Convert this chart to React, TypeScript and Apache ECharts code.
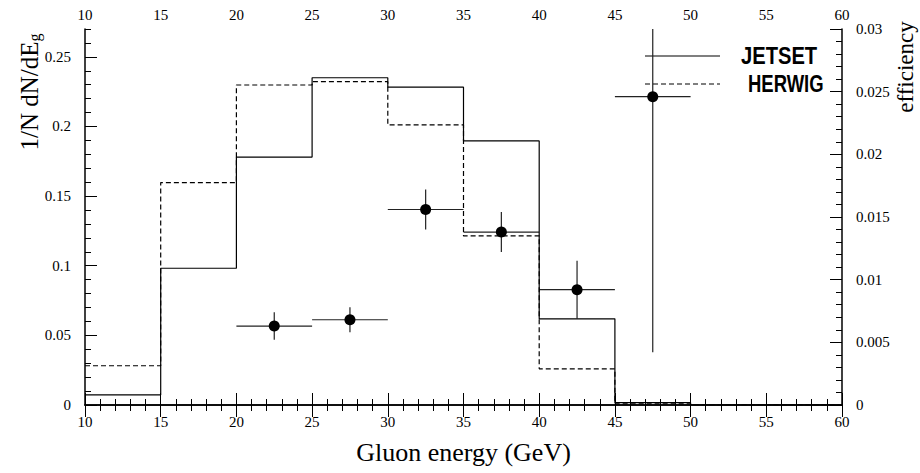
import React, { useEffect, useRef } from "react";
import * as echarts from "echarts";

// Bin edges of the histograms (GeV)
const binEdges = [10, 15, 20, 25, 30, 35, 40, 45, 50, 55, 60];
// 1/N dN/dE_g per bin
const jetset = [0.0072, 0.0982, 0.178, 0.235, 0.2282, 0.1896, 0.0619, 0.0017, 0, 0];
const herwig = [0.0282, 0.1597, 0.2298, 0.2322, 0.2011, 0.1214, 0.026, 0.0008, 0, 0];
// Efficiency points
const effX = [22.5, 27.5, 32.5, 37.5, 42.5, 47.5];
const effXErr = [2.5, 2.5, 2.5, 2.5, 2.5, 2.5];
const effY = [0.0063, 0.0068, 0.0156, 0.0138, 0.0092, 0.0246];
const effYErr = [0.0011, 0.001, 0.0016, 0.0016, 0.0023, 0.0204];

const xTicks = ["10", "15", "20", "25", "30", "35", "40", "45", "50", "55", "60"];

const SERIF = "Liberation Serif";

function histData(vals: number[]) {
  const d: number[][] = vals.map((v, i) => [binEdges[i], v]);
  d.push([binEdges[binEdges.length - 1], vals[vals.length - 1]]);
  return d;
}

const richLabel = { t: { fontFamily: SERIF, fontSize: 15, color: "#000" } };
const fmtX = (v: number) => (xTicks.includes(String(v)) ? `{t|${v}}` : "");
const fmtY = (v: number) => `{t|${v}}`;

export default function App() {
  const ref = useRef<HTMLDivElement>(null);
  useEffect(() => {
    if (!ref.current) return;
    const chart = echarts.init(ref.current, undefined, { renderer: "svg" });
    const labelStyle = { color: "#000", fontFamily: SERIF, fontSize: 15, rich: richLabel };
    const xCommon = {
      type: "value" as const,
      min: 10,
      max: 60,
      interval: 5,
      axisLine: { lineStyle: { color: "#000", width: 1.5 } },
      axisTick: { inside: true, length: 12, lineStyle: { color: "#000", width: 1 } },
      minorTick: { show: true, splitNumber: 5, length: 6, lineStyle: { color: "#000", width: 1 } },
      splitLine: { show: false },
      axisLabel: { ...labelStyle, margin: 9, formatter: fmtX },
    };
    chart.setOption({
      animation: false,
      backgroundColor: "#fff",
      textStyle: { fontFamily: SERIF },
      grid: { left: 85, right: 78, top: 29, bottom: 68, show: false, containLabel: false, outerBoundsMode: "none" },
      xAxis: [
        {
          ...xCommon,
          position: "bottom",
          name: "Gluon energy (GeV)",
          nameLocation: "middle",
          nameGap: 34,
          nameTextStyle: { color: "#000", fontFamily: SERIF, fontSize: 26 },
        },
        { ...xCommon, position: "top", axisLabel: { ...xCommon.axisLabel, margin: 7 } },
      ],
      yAxis: [
        {
          type: "value",
          position: "left",
          min: 0,
          max: 0.27,
          interval: 0.05,
          axisLine: { show: true, lineStyle: { color: "#000", width: 1.5 } },
          axisTick: { show: true, inside: true, length: 12, lineStyle: { color: "#000" } },
          splitLine: { show: false },
          axisLabel: { ...labelStyle, margin: 14, showMaxLabel: false, formatter: fmtY },
        },
        {
          type: "value",
          position: "left",
          min: 0,
          max: 0.27,
          interval: 0.01,
          axisLine: { show: false },
          axisTick: { show: true, inside: true, length: 6, lineStyle: { color: "#000" } },
          splitLine: { show: false },
          axisLabel: { show: false },
        },
        {
          type: "value",
          position: "right",
          min: 0,
          max: 0.03,
          interval: 0.005,
          axisLine: { show: true, lineStyle: { color: "#000", width: 1.5 } },
          axisTick: { show: true, inside: true, length: 12, lineStyle: { color: "#000" } },
          minorTick: { show: true, splitNumber: 5, length: 6, lineStyle: { color: "#000" } },
          splitLine: { show: false },
          axisLabel: { ...labelStyle, margin: 14, formatter: fmtY },
        },
      ],
      series: [
        {
          name: "JETSET",
          type: "line",
          step: "end",
          xAxisIndex: 0,
          yAxisIndex: 0,
          symbol: "none",
          data: histData(jetset),
          lineStyle: { color: "#000", width: 1.2, type: "solid" },
        },
        {
          name: "HERWIG",
          type: "line",
          step: "end",
          xAxisIndex: 0,
          yAxisIndex: 0,
          symbol: "none",
          data: histData(herwig),
          lineStyle: { color: "#000", width: 1.2, type: [5, 3] },
        },
        {
          name: "efficiency errors",
          type: "custom",
          xAxisIndex: 0,
          yAxisIndex: 2,
          clip: true,
          data: effX.map((x, i) => [x, effY[i], effXErr[i], effYErr[i]]),
          renderItem: (params: any, api: any) => {
            const x = api.value(0);
            const y = api.value(1);
            const ex = api.value(2);
            const ey = api.value(3);
            const h1 = api.coord([x - ex, y]);
            const h2 = api.coord([x + ex, y]);
            const v1 = api.coord([x, Math.max(0, y - ey)]);
            const v2 = api.coord([x, Math.min(0.03, y + ey)]);
            const st = { stroke: "#222", lineWidth: 1.2 };
            return {
              type: "group",
              children: [
                { type: "line", shape: { x1: h1[0], y1: h1[1], x2: h2[0], y2: h2[1] }, style: st },
                { type: "line", shape: { x1: v1[0], y1: v1[1], x2: v2[0], y2: v2[1] }, style: st },
              ],
            };
          },
        },
        {
          name: "efficiency",
          type: "scatter",
          xAxisIndex: 0,
          yAxisIndex: 2,
          symbol: "circle",
          symbolSize: 11,
          data: effX.map((x, i) => [x, effY[i]]),
          itemStyle: { color: "#000", opacity: 1 },
          z: 5,
        },
      ],
      graphic: [
        {
          type: "text",
          x: 29,
          y: 92,
          rotation: Math.PI / 2,
          style: {
            text: "1/N dN/dE{s|g}",
            fill: "#000",
            font: `25px ${SERIF}`,
            align: "center",
            verticalAlign: "middle",
            rich: { s: { fontSize: 16, fontFamily: SERIF, padding: [10, 0, 0, 0], fill: "#000" } },
          },
        },
        {
          type: "text",
          x: 905,
          y: 67,
          rotation: Math.PI / 2,
          style: {
            text: "efficiency",
            fill: "#000",
            font: `23px ${SERIF}`,
            align: "center",
            verticalAlign: "middle",
          },
        },
        { type: "line", shape: { x1: 645, y1: 56, x2: 720, y2: 56 }, style: { stroke: "#000", lineWidth: 1.2 } },
        {
          type: "line",
          shape: { x1: 645, y1: 84, x2: 720, y2: 84 },
          style: { stroke: "#000", lineWidth: 1.2, lineDash: [5, 3] },
        },
        {
          type: "text",
          x: 741,
          y: 56,
          scaleX: 0.84,
          style: {
            text: "JETSET",
            fill: "#000",
            font: "bold 24px Liberation Sans",
            align: "left",
            verticalAlign: "middle",
          },
        },
        {
          type: "text",
          x: 748,
          y: 84,
          scaleX: 0.77,
          style: {
            text: "HERWIG",
            fill: "#000",
            font: "bold 24px Liberation Sans",
            align: "left",
            verticalAlign: "middle",
          },
        },
      ],
    });
    return () => chart.dispose();
  }, []);
  return <div ref={ref} style={{ position: "fixed", left: 0, top: 0, width: 920, height: 473 }} />;
}
